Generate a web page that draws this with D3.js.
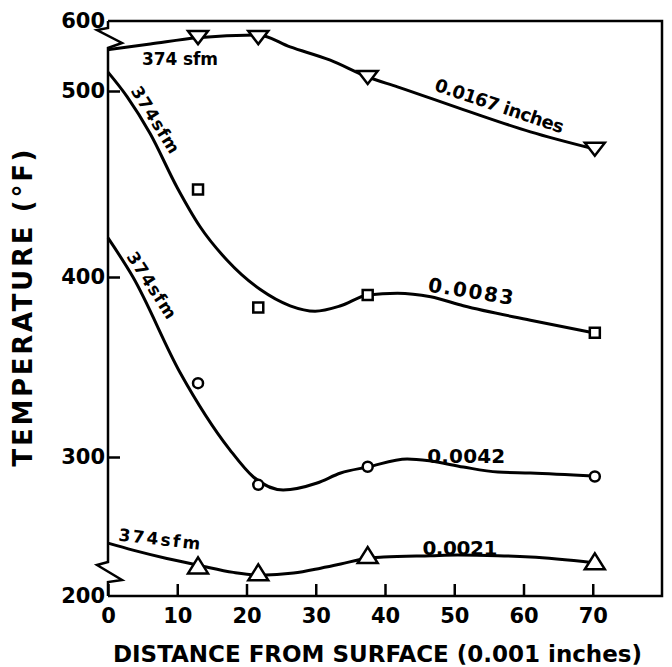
<!DOCTYPE html>
<html>
<head>
<meta charset="utf-8">
<script src="https://cdn.jsdelivr.net/npm/d3@7"></script>
<style>
  body { margin: 0; background: #fff; }
  svg { display: block; font-family: "DejaVu Sans", sans-serif; font-weight: bold; }
</style>
</head>
<body>
<svg id="chart" width="672" height="667"></svg>
<script>
// tick values
const xTicks = [0, 10, 20, 30, 40, 50, 60, 70];
const yTicks = [200, 300, 400, 500, 600];

// measured points (distance in 0.001 in, temperature in F)
const measX = [13, 21.7, 37.5, 70.3];
const meas0167 = [577, 577, 520, 469];
const meas0083 = [447, 383, 390, 369];
const meas0042 = [341, 280, 293, 286];
const meas0021 = [222, 217, 229.5, 225];

// faired curves
const fit0167X = [0, 6.1, 12.9, 21.7, 26.3, 32.1, 37.5, 41.8, 51.3, 61, 70];
const fit0167T = [559, 567, 576, 580, 563, 544, 520, 506, 490, 478, 469];
const fit0083X = [0, 2.75, 6.1, 10, 13.3, 17.2, 22, 26.3, 29.9, 33.6, 37.5, 41.8, 46.6, 51.3, 61, 70.1];
const fit0083T = [527, 497, 477, 448, 427, 409, 393, 384, 381, 384, 390, 391, 389, 384, 376, 369];
const fit0042X = [0, 3.6, 10.4, 17.6, 21, 25.3, 30.2, 33.6, 37.5, 43.2, 46.6, 51.3, 56.3, 61, 70.1];
const fit0042T = [421, 400, 347, 304, 285.6, 276.3, 281.3, 288.5, 292.8, 298.6, 297.1, 292.8, 289.2, 288.5, 286.3];
const fit0021X = [0, 3.6, 8.5, 13.2, 18.1, 22, 26.8, 30.7, 33.6, 37.2, 39.8, 46.6, 50.5, 56.3, 61, 70.1];
const fit0021T = [238, 233, 227, 222, 217, 215, 216.5, 220, 223, 227, 228, 229, 229.5, 229, 228, 224];

const svg = d3.select("#chart");

// x axis is linear, y axis is broken near 200 and 600 so map it piecewise
const x = d3.scaleLinear().domain([0, 80]).range([108, 662]);
const y = d3.scaleLinear().domain([200, 300, 400, 500, 600]).range([596, 457, 277, 91, 21]);

const zip = (xs, ts) => xs.map((d, i) => ({ x: d, t: ts[i] }));

const series = [
  { fit: zip(fit0167X, fit0167T), pts: zip(measX, meas0167), mark: "triDown" },
  { fit: zip(fit0083X, fit0083T), pts: zip(measX, meas0083), mark: "square" },
  { fit: zip(fit0042X, fit0042T), pts: zip(measX, meas0042), mark: "circle" },
  { fit: zip(fit0021X, fit0021T), pts: zip(measX, meas0021), mark: "triUp" }
];

// frame: top and right borders, bottom axis
const x0 = x(0), xEnd = x(80), yTop = y(600), yBot = y(200);
svg.append("path")
  .attr("d", `M${x0},${yTop}H${xEnd}V${yBot}H${x0}`)
  .attr("fill", "none").attr("stroke", "#000").attr("stroke-width", 2.5);

// left axis with the two zigzag breaks
svg.append("path")
  .attr("d", `M${x0},${yTop}V${yTop + 7}L${x0 - 11},${yTop + 9}L${x0 + 14},${yTop + 22}L${x0},${yTop + 27}` +
             `V${yBot - 34}L${x0 - 11},${yBot - 31}L${x0 + 14},${yBot - 16}L${x0},${yBot - 14}V${yBot}`)
  .attr("fill", "none").attr("stroke", "#000").attr("stroke-width", 2.5)
  .attr("stroke-linejoin", "miter");

// axes
const xAxis = svg.append("g")
  .attr("transform", `translate(0,${yBot})`)
  .call(d3.axisBottom(x).tickValues(xTicks).tickSizeInner(-12).tickSizeOuter(0).tickPadding(12));

const yAxis = svg.append("g")
  .attr("transform", `translate(${x0},0)`)
  .call(d3.axisLeft(y).tickValues(yTicks).tickSizeInner(-12).tickSizeOuter(0).tickPadding(3)
    .tickFormat(d3.format("d")));

[xAxis, yAxis].forEach(g => {
  g.select(".domain").remove();
  g.selectAll(".tick line").attr("stroke", "#000").attr("stroke-width", 2.5);
  g.selectAll(".tick text")
    .attr("fill", "#000")
    .style("font-family", "'DejaVu Sans', sans-serif")
    .style("font-weight", "bold")
    .style("font-size", "21px");
});
yAxis.selectAll(".tick")
  .filter(d => d === 200 || d === 600)
  .select("line").remove();

// curves
const line = d3.line()
  .x(d => x(d.x))
  .y(d => y(d.t))
  .curve(d3.curveMonotoneX);

svg.append("g").selectAll("path")
  .data(series)
  .join("path")
  .attr("d", s => line(s.fit))
  .attr("fill", "none")
  .attr("stroke", "#000")
  .attr("stroke-width", 3);

// markers
const markPath = (type, cx, cy) => {
  if (type === "triDown") return `M${cx - 10},${cy - 6}L${cx + 10},${cy - 6}L${cx},${cy + 7}Z`;
  if (type === "triUp") return `M${cx - 10},${cy + 8}L${cx + 10},${cy + 8}L${cx},${cy - 8}Z`;
  return `M${cx - 5},${cy - 5}h10v10h-10Z`;
};

series.forEach(s => {
  const g = svg.append("g");
  s.pts.forEach(p => {
    const cx = x(p.x), cy = y(p.t);
    if (s.mark === "circle") {
      g.append("circle").attr("cx", cx).attr("cy", cy).attr("r", 5)
        .attr("fill", "#fff").attr("stroke", "#000").attr("stroke-width", 2.5);
    } else {
      g.append("path").attr("d", markPath(s.mark, cx, cy))
        .attr("fill", "#fff").attr("stroke", "#000").attr("stroke-width", 2.5)
        .attr("stroke-linejoin", "miter");
    }
  });
});

// annotations on the curves
const notes = [
  { text: "374 sfm", x: 4.9, t: 537, angle: 0, size: 17, len: 76 },
  { text: "374sfm", x: 3.2, t: 500.5, angle: 58, size: 17, len: 76 },
  { text: "374sfm", x: 2.6, t: 411, angle: 57, size: 17, len: 76 },
  { text: "374sfm", x: 1.45, t: 240, angle: 6.5, size: 17, len: 82 },
  { text: "0.0167 inches", x: 47, t: 501, angle: 18.6, size: 18, len: 135 },
  { text: "0.0083", x: 46.1, t: 392, angle: 9, size: 20, len: 86 },
  { text: "0.0042", x: 46.1, t: 296, angle: 0, size: 20, len: 78 },
  { text: "0.0021", x: 45.4, t: 229.5, angle: 0, size: 20, len: 75 }
];

svg.append("g").selectAll("text")
  .data(notes)
  .join("text")
  .attr("transform", d => `translate(${x(d.x)},${y(d.t)}) rotate(${d.angle})`)
  .attr("font-size", d => d.size)
  .attr("textLength", d => d.len)
  .attr("lengthAdjust", "spacing")
  .text(d => d.text);

// axis titles
svg.append("text")
  .attr("x", 113).attr("y", 662)
  .attr("font-size", 23)
  .attr("textLength", 529)
  .attr("lengthAdjust", "spacing")
  .text("DISTANCE FROM SURFACE (0.001 inches)");

svg.append("text")
  .attr("transform", "translate(32,308) rotate(-90)")
  .attr("text-anchor", "middle")
  .attr("font-size", 26)
  .attr("textLength", 317)
  .attr("lengthAdjust", "spacing")
  .text("TEMPERATURE (°F)");
</script>
</body>
</html>
